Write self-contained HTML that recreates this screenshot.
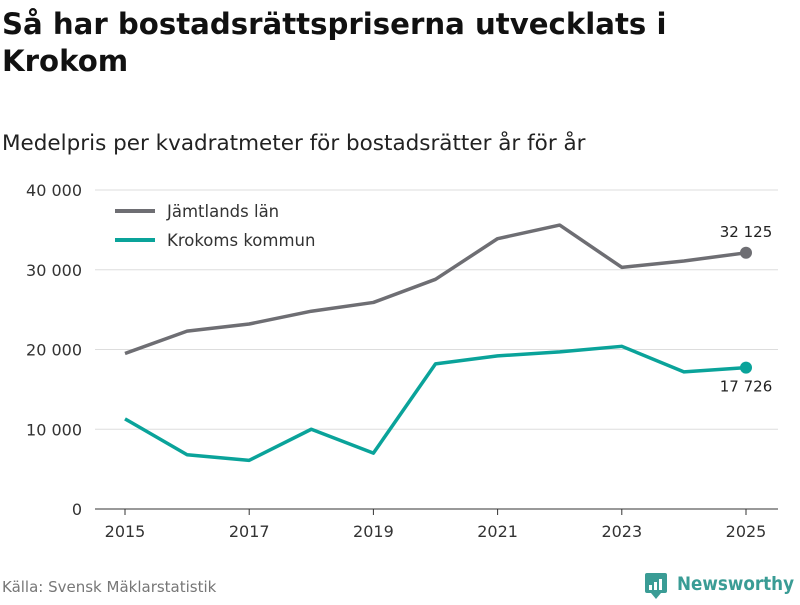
<!DOCTYPE html>
<html><head><meta charset="utf-8"><style>
body{margin:0;width:800px;height:600px;background:#fff;font-family:"DejaVu Sans","Liberation Sans",sans-serif;overflow:hidden;position:relative}
h1{position:absolute;left:2px;top:6px;margin:0;font-size:29.2px;line-height:37px;font-weight:bold;color:#111}
.sub{position:absolute;left:2px;top:131px;font-size:21.5px;color:#222}
.src{position:absolute;left:2px;top:578px;font-size:15px;color:#777}
</style></head><body>
<h1>Så har bostadsrättspriserna utvecklats i<br>Krokom</h1>
<div class="sub">Medelpris per kvadratmeter för bostadsrätter år för år</div>
<svg id="c" width="800" height="600" style="position:absolute;left:0;top:0"></svg>
<div class="src">Källa: Svensk Mäklarstatistik</div>
<div style="position:absolute;left:645px;top:571px">
<svg width="155" height="30"><rect x="0" y="2" width="22" height="20" rx="2" fill="#3a9c95"/><polygon points="6,22 11,28 16,22" fill="#3a9c95"/><rect x="4" y="14" width="3" height="5" fill="#fff"/><rect x="9" y="11" width="3" height="8" fill="#fff"/><rect x="14" y="8" width="3" height="11" fill="#fff"/>
<text x="32" y="19" font-size="19" font-weight="bold" fill="#3a9c95" textLength="117" lengthAdjust="spacingAndGlyphs" font-family="DejaVu Sans, sans-serif">Newsworthy</text></svg></div>
<script>
const years=[2015,2016,2017,2018,2019,2020,2021,2022,2023,2024,2025];
const jamtland=[19500,22300,23200,24800,25900,28800,33900,35600,30300,31100,32125];
const krokom=[11300,6800,6100,10000,7000,18200,19200,19700,20400,17200,17726];
const yTicks=[0,10000,20000,30000,40000];
const yTickLabels=["0","10 000","20 000","30 000","40 000"];
const xTicks=[2015,2017,2019,2021,2023,2025];
const NS="http://www.w3.org/2000/svg";const svg=document.getElementById('c');
const X=v=>125+(v-2015)*62.1, Y=v=>509-v*0.007975;
function mk(t,a,p){const e=document.createElementNS(NS,t);for(const k in a)e.setAttribute(k,a[k]);(p||svg).appendChild(e);return e;}
yTicks.forEach((t,i)=>{
 const l=mk('line',{x1:95,x2:778,y1:Y(t),y2:Y(t),stroke:t===0?'#333':'#ddd','stroke-width':1});
 
 
 const tx=mk('text',{x:82,y:Y(t)+6,'text-anchor':'end','font-size':16,fill:'#333'});tx.textContent=yTickLabels[i];
 
 
});
xTicks.forEach(t=>{
 const l=mk('line',{x1:X(t),x2:X(t),y1:509,y2:515,stroke:'#333'});
 
 
 const tx=mk('text',{x:X(t),y:537,'text-anchor':'middle','font-size':16,fill:'#333'});tx.textContent=t;
 
 
});
function series(d,col,name,lab,dy){
 const p=mk('polyline',{points:d.map((v,i)=>X(years[i])+','+Y(v)).join(' '),fill:'none',stroke:col,'stroke-width':3.5,'stroke-linejoin':'round'});
 
 
 const n=d.length-1;
 const c=mk('circle',{cx:X(years[n]),cy:Y(d[n]),r:6,fill:col});
 
 
 const t=mk('text',{x:X(years[n]),y:Y(d[n])+dy,'text-anchor':'middle','font-size':15,fill:'#222'});t.textContent=lab;
 
 
}
series(jamtland,'#6e6e73','jamtland','32 125',-16);
series(krokom,'#0aa39a','krokom','17 726',24);
[['Jämtlands län','#6e6e73',211],['Krokoms kommun','#0aa39a',240]].forEach(([n,c,y])=>{
 const g=mk('g',{});
 
 
 mk('line',{x1:115,x2:155,y1:y,y2:y,stroke:c,'stroke-width':4},g);
 const t=mk('text',{x:167,y:y+6,'font-size':16.5,fill:'#333'},g);t.textContent=n;
});
</script>
</body></html>
